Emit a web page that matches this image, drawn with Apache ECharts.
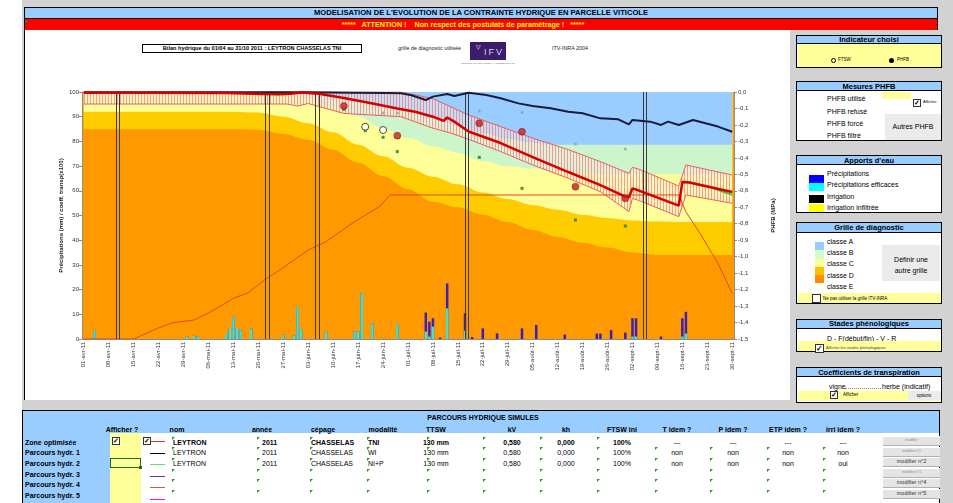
<!DOCTYPE html>
<html lang="fr">
<head>
<meta charset="utf-8">
<title>Modélisation de la contrainte hydrique</title>
<script src="https://cdn.jsdelivr.net/npm/echarts@6.0.0/dist/echarts.min.js"></script>
<style>
  html, body { margin: 0; padding: 0; }
  body { width: 953px; height: 503px; overflow: hidden; position: relative; background: #fff;
         font-family: "Liberation Sans", Arial, sans-serif; color: #000; }
  #frame { position: absolute; left: 0; top: 0; width: 953px; height: 503px; }
  #chart { position: absolute; left: 0; top: 0; width: 953px; height: 503px; z-index: 5; }
  .abs { position: absolute; white-space: pre; box-sizing: border-box; }
</style>
</head>
<body>
<div id="frame"></div>
<div id="chart"></div>
<script>
// ---- données (jour 0 = 01/04/2011) ----
const weekLabels = ['01-avr-11', '08-avr-11', '15-avr-11', '22-avr-11', '29-avr-11', '06-mai-11', '13-mai-11',
  '20-mai-11', '27-mai-11', '03-juin-11', '10-juin-11', '17-juin-11', '24-juin-11', '01-juil-11', '08-juil-11',
  '15-juil-11', '22-juil-11', '29-juil-11', '05-août-11', '12-août-11', '19-août-11', '26-août-11', '02-sept-11',
  '09-sept-11', '16-sept-11', '23-sept-11', '30-sept-11']
const nbJours = 183

// grille de diagnostic ITV-INRA : limites des classes (PHFB, MPa), une valeur par semaine
const gridDays = [0, 7, 14, 21, 28, 35, 42, 49, 56, 63, 70, 77, 84, 91, 98, 105, 112, 119, 126, 133, 140, 147, 154, 161, 168, 175, 182]
const limAB = [0, 0, 0, 0, 0, 0, 0, 0, 0, -0.005, -0.02, -0.045, -0.08, -0.115, -0.16, -0.205, -0.25, -0.285, -0.31, -0.32, -0.32, -0.32, -0.32, -0.32, -0.32, -0.32, -0.32]
const limBC = [0, 0, 0, 0, 0, 0, 0, 0, -0.01, -0.04, -0.09, -0.15, -0.22, -0.28, -0.33, -0.37, -0.42, -0.45, -0.465, -0.48, -0.49, -0.5, -0.5, -0.5, -0.5, -0.5, -0.5]
const limCD = [-0.12, -0.12, -0.12, -0.12, -0.12, -0.12, -0.12, -0.125, -0.15, -0.19, -0.245, -0.32, -0.39, -0.46, -0.514, -0.56, -0.61, -0.65, -0.686, -0.715, -0.745, -0.765, -0.78, -0.787, -0.79, -0.79, -0.79]
const limDE = [-0.226, -0.226, -0.226, -0.226, -0.226, -0.226, -0.226, -0.23, -0.255, -0.29, -0.35, -0.43, -0.51, -0.59, -0.666, -0.7, -0.745, -0.79, -0.838, -0.88, -0.915, -0.945, -0.975, -0.99, -0.99, -0.99, -0.99]

// zone optimisée (enveloppe hachurée)
const bandDays = [0, 57, 60, 63, 73, 89, 98, 103, 108, 117, 126, 136, 145, 153, 154, 156, 167, 169, 182]
const bandUpper = [0, 0, 0, 0, 0, 0, -0.04, -0.09, -0.14, -0.21, -0.28, -0.35, -0.423, -0.494, -0.457, -0.47, -0.571, -0.443, -0.504]
const bandLower = [-0.073, -0.073, -0.085, -0.07, -0.13, -0.15, -0.22, -0.25, -0.287, -0.362, -0.443, -0.524, -0.605, -0.726, -0.646, -0.66, -0.757, -0.625, -0.676]

// parcours hydriques simulés [jour, PHFB]
const parcoursTNI = [[0, -0.004], [20, -0.004], [40, -0.006], [50, -0.012], [55, -0.014], [58, -0.01], [61, -0.003], [66, -0.01],
  [73, -0.036], [80, -0.065], [88, -0.1], [93, -0.12], [98, -0.15], [101, -0.175], [102, -0.155], [104, -0.18], [108, -0.24],
  [117, -0.31], [126, -0.395], [136, -0.486], [145, -0.565], [152, -0.635], [153, -0.64], [154, -0.585], [156, -0.6],
  [167, -0.69], [168, -0.546], [170, -0.55], [182, -0.607]]
const parcoursWI = [[0, -0.002], [63, -0.002], [75, -0.004], [85, -0.006], [89, -0.008], [92, -0.02], [96, -0.049], [98, -0.028],
  [102, -0.012], [104, -0.024], [108, -0.004], [113, -0.018], [117, -0.038], [122, -0.069], [126, -0.085], [131, -0.099],
  [136, -0.12], [140, -0.129], [145, -0.16], [150, -0.166], [153, -0.197], [154, -0.17], [159, -0.18], [162, -0.2],
  [164, -0.18], [167, -0.2], [171, -0.17], [178, -0.21], [182, -0.241]]
const parcoursNIP = [[168, -0.546], [170, -0.55], [176, -0.58], [182, -0.625]]

// coefficient de transpiration de la vigne (x100)
const coeffVigne = [[0, 0], [14, 0], [21, 4.5], [25, 6.6], [31, 7.7], [35, 10.5], [38, 13], [42, 16.5], [46, 18.6], [51, 24.2],
  [55, 27.9], [59, 32], [63, 36], [68, 39.4], [76, 47.5], [83, 53.6], [86, 58.3], [167, 58.3], [169, 51.5], [173, 42.7],
  [178, 30.6], [182, 18.5]]

// précipitations (mm)
const precipDays = [3, 29, 31, 32, 40, 41, 42, 43, 44, 47, 56, 59, 60, 61, 68, 76, 77, 78, 81, 88, 96, 97, 98, 100, 102, 107, 109,
  112, 116, 123, 127, 135, 144, 145, 148, 152, 154, 155, 162, 168, 169]
const precipTotal = [3.6, 1, 1.3, 1, 2, 4.5, 9, 4.5, 3.5, 4.3, 1.8, 1.5, 13, 4, 3, 3, 3, 18.5, 6.3, 6, 10.7, 7, 8.4, 0.6, 22.5, 10.4, 0.8,
  4.3, 2.3, 4.3, 5.7, 1.8, 2.2, 2.2, 3.6, 2.6, 8.4, 8.4, 1, 8.4, 11]
const precipEff = [3.6, 1, 1.3, 1, 2, 4.5, 9, 4.5, 3.5, 4.3, 1.8, 1.5, 13, 4, 3, 3, 3, 18.5, 6.3, 6, 3, 1, 5, 0, 12.4, 3.4, 0,
  0, 0, 0, 0, 0, 0, 0, 0, 0, 1, 1, 0, 1, 2.2]

// mesures PHFB [jour, MPa]
const phfbUtilise = [[73, -0.085], [88, -0.265], [111, -0.19], [123, -0.241], [138, -0.575], [152, -0.646]]
const phfbFtsw = [[79, -0.211], [84, -0.231]]
const phfbForce = [[73, -0.105], [79, -0.235], [84, -0.275], [88, -0.362], [111, -0.397], [123, -0.585], [138, -0.777], [152, -0.814]]
const phfbRefuse = [[84, -0.128], [88, -0.128], [111, -0.115], [123, -0.124], [138, -0.316], [152, -0.346]]

// stades phénologiques D - F(début) - F(fin) - V - R
const stageDays = [9, 51, 65, 107, 157]

// tableau des parcours
const rowNames = ['Zone optimisée', 'Parcours hydr. 1', 'Parcours hydr. 2', 'Parcours hydr. 3', 'Parcours hydr. 4', 'Parcours hydr. 5']
const rowColors = ['#e0301e', '#000000', '#66dd66', '#5533cc', '#c0604a', '#ff00ff']
const parcoursRows = [
  ['LEYTRON', '2011', 'CHASSELAS', 'TNI', '130 mm', '0,580', '0,000', '100%', '---', '---', '---', '---'],
  ['LEYTRON', '2011', 'CHASSELAS', 'WI', '130 mm', '0,580', '0,000', '100%', 'non', 'non', 'non', 'non'],
  ['LEYTRON', '2011', 'CHASSELAS', 'NI+P', '130 mm', '0,580', '0,000', '100%', 'non', 'non', 'non', 'oui']
]
const colHeads = ['nom', 'année', 'cépage', 'modalité', 'TTSW', 'kV', 'kh', 'FTSW ini', 'T idem ?', 'P idem ?', 'ETP idem ?', 'irri idem ?']

// ---- cadre de la feuille (html) ----
const frame = document.getElementById('frame')
function box(x, y, w, h, css) {
  const d = document.createElement('div')
  d.className = 'abs'
  d.style.cssText += `left:${x}px;top:${y}px;width:${w}px;height:${h}px;${css || ''}`
  frame.appendChild(d)
  return d
}
// texte centré verticalement sur y ; align 'c' = centré sur x
function text(x, y, s, size, css, align) {
  const d = document.createElement('div')
  d.className = 'abs'
  const tx = align === 'c' ? '-50%' : '0'
  d.style.cssText += `left:${x}px;top:${y}px;font-size:${size}px;line-height:1;transform:translate(${tx},-50%);${css || ''}`
  d.textContent = s
  frame.appendChild(d)
  return d
}
function check(x, y, size, ticked) {
  const b = box(x, y, size, size, 'background:#fff;border:1px solid #333;')
  if (ticked) {
    b.textContent = '✓'
    b.style.cssText += `font-size:${size - 1}px;line-height:${size - 2}px;text-align:center;font-weight:bold;`
  }
}
function tri(x, y) {
  box(x, y, 0, 0, 'box-sizing:content-box;border-top:3px solid #1f9a1f;border-right:3px solid transparent;')
}
function panel(y, h, title, hh) {
  box(796, y, 146, h, 'background:#fff;border:1.5px solid #000;')
  box(796, y, 146, hh, 'background:#99ccff;border:1.5px solid #000;border-bottom-width:1px;')
  text(869, y + hh / 2 + 0.5, title, 7.5, 'font-weight:bold;', 'c')
}

box(22, 0, 931, 503, 'background:#d2d2d2;')
// bandeaux
box(24, 7, 914, 12, 'background:#99ccff;border:1px solid #000;')
text(481, 13.2, "MODELISATION DE L'EVOLUTION DE LA CONTRAINTE HYDRIQUE EN PARCELLE VITICOLE", 7.6, 'font-weight:bold;', 'c')
box(24, 19, 914, 11, 'background:#ff0000;border-left:1px solid #000;border-right:1px solid #000;')
text(463, 24.6, '*****   ATTENTION !    Non respect des postulats de paramétrage !   *****', 7.2, 'font-weight:bold;color:#ffff00;', 'c')
tri(25, 20)
// zone graphique
box(24, 30, 766, 370, 'background:#fff;border-left:1px solid #000;')
box(142, 44, 220, 9, 'border:1px solid #000;background:#fff;')
text(252, 48.7, 'Bilan hydrique du 01/04 au 31/10 2011 : LEYTRON CHASSELAS TNI', 5.6, 'font-weight:bold;', 'c')
text(398, 48.7, 'grille de diagnostic utilisée', 5.4, 'color:#222;')
box(470, 42, 36, 18, 'background:#3b1d6b;')
text(476, 47, '▽', 6, 'color:#fff;')
text(494, 51.5, 'IFV', 9, 'color:#d8d0f0;letter-spacing:2px;', 'c')
text(488, 63.5, 'INSTITUT FRANÇAIS DE LA VIGNE ET DU VIN', 2.5, 'color:#6a5a90;', 'c')
text(552, 48.7, 'ITV-INRA 2004', 5.4, 'color:#222;')

// panneaux de droite
panel(35, 33, 'Indicateur choisi', 9)
box(797.5, 44, 143, 22.5, 'background:#ffff99;')
box(831, 57.5, 5, 5, 'border:1px solid #000;border-radius:50%;background:#fff;')
text(838, 60, 'FTSW', 4.5)
box(889, 57.5, 5, 5, 'border-radius:50%;background:#000;')
text(897, 60, 'PHFB', 4.5)

panel(81, 60, 'Mesures PHFB', 10)
text(827, 98, 'PHFB utilisé', 7)
box(882, 92, 29, 7, 'background:#ffff99;')
check(913, 99, 8, true)
text(923, 102, 'Afficher', 4)
text(827, 111, 'PHFB refusé', 7)
text(827, 123, 'PHFB forcé', 7)
text(827, 135, 'PHFB filtré', 7)
box(885, 114, 56, 26, 'background:#ebebeb;')
text(913, 126, 'Autres PHFB', 7, '', 'c')

panel(155, 58, "Apports d'eau", 10)
box(809, 175, 15, 7.5, 'background:#0000ff;')
box(809, 183, 15, 7.5, 'background:#00ffff;')
box(809, 195, 15, 7.5, 'background:#000;')
box(809, 204, 15, 7.5, 'background:#ffff00;')
text(827, 173, 'Précipitations', 7)
text(827, 184, 'Précipitations efficaces', 7)
text(827, 196, 'Irrigation', 7)
text(827, 207, 'Irrigation infiltrée', 7)

panel(222, 82, 'Grille de diagnostic', 11)
const classColors = ['#99ccff', '#ccffcc', '#ffff99', '#ffc000', '#ff8c00']
classColors.forEach((c, i) => {
  box(815, 242 + i * 8.3, 9, 8.3, `background:${c};`)
  text(827, 241 + i * 11.2, 'classe ' + 'ABCDE'[i], 7)
})
box(882, 245, 58, 36, 'background:#ebebeb;')
text(911, 259, 'Définir une', 7, '', 'c')
text(911, 270, 'autre grille', 7, '', 'c')
box(797.5, 293, 143, 10, 'background:#ffff99;')
check(812, 294, 9, false)
text(823, 298.5, 'Ne pas utiliser la grille ITV-INRA', 4.5)

panel(319, 33, 'Stades phénologiques', 9.5)
text(827, 338, 'D - F(début/fin) - V - R', 7)
box(797.5, 341, 143, 10, 'background:#ffff99;')
check(815, 344, 9, true)
text(826, 348, 'Afficher les stades phénologiques', 4, 'color:#444;')

panel(367, 36, 'Coefficients de transpiration', 10)
text(829, 386, 'vigne', 7)
text(882, 386, 'herbe (indicatif)', 7)
box(845, 388, 36, 0, 'border-top:1px dotted #e07030;')
box(797.5, 391, 143, 10, 'background:#ffff99;')
check(830, 391, 8, true)
text(843, 395, 'Afficher', 4.5)
box(908, 391, 33, 9, 'background:#ebebeb;')
text(924, 395.5, 'options', 4.5, '', 'c')

// tableau des parcours hydriques
box(22, 410, 918, 96, 'background:#fff;border:1.5px solid #000;')
box(22, 410, 918, 23, 'background:#99ccff;border:1.5px solid #000;border-bottom:none;')
box(22, 433, 88, 72, 'background:#99ccff;border-left:1.5px solid #000;')
box(110, 433, 31, 72, 'background:#ffff99;')
text(483, 416.5, 'PARCOURS HYDRIQUE SIMULES', 7, 'font-weight:bold;', 'c')
text(122, 428.5, 'Afficher ?', 7, 'font-weight:bold;', 'c')
const colX = [177, 262, 323, 383, 436, 512, 566, 622, 677, 733, 788, 843]
const colLeft = [173, 262, 311, 368]
const triX = [172, 257, 310, 367, 427, 483, 540, 597, 655, 710, 767, 823]
colHeads.forEach((h, j) => text(colX[j], 428.5, h, 7, 'font-weight:bold;', 'c'))
const rowY = [441.7, 452.3, 463, 473.6, 484.2, 494.8]
rowNames.forEach((n, i) => {
  text(25, rowY[i], n, 7, 'font-weight:bold;')
  box(150, 441 + i * 11.6, 15, 0, `border-top:1.5px solid ${rowColors[i]};`)
  triX.forEach((x, j) => { if (i > 0 || j < 8) tri(x, rowY[i] - 5) })
})
check(112, 437, 8, true)
check(143, 437, 8, true)
box(110, 458, 31, 10, 'border:1.5px solid #1f6b2f;')
box(139, 466, 3, 3, 'background:#1f6b2f;')
parcoursRows.forEach((r, i) => {
  r.forEach((v, j) => {
    const css = (i === 0 && j < 8) ? 'font-weight:bold;' : ''
    if (j < 4) text(colLeft[j], rowY[i], v, 7, css)
    else text(colX[j], rowY[i], v, 7, css, 'c')
  })
})
const btnLabels = ['modifier', 'modifier n°1', 'modifier n°2', 'modifier n°3', 'modifier n°4', 'modifier n°5']
btnLabels.forEach((b, i) => {
  box(883, 436 + i * 10.6, 57, 10, 'background:#e4e4e4;border-top:1px solid #fff;border-bottom:1px solid #b0b0b0;')
  const faint = i === 0 || i === 1 || i === 3
  text(911.5, 441 + i * 10.6, b, faint ? 3.5 : 5.5, faint ? 'color:#888;' : 'color:#333;', 'c')
})

// ---- graphique ECharts ----
// motif de hachures verticales de la zone optimisée
const hatch = document.createElement('canvas')
hatch.width = 3
hatch.height = 3
const hc = hatch.getContext('2d')
hc.fillStyle = 'rgba(255,235,230,0.5)'
hc.fillRect(0, 0, 3, 3)
hc.fillStyle = 'rgba(228,80,80,0.5)'
hc.fillRect(0, 0, 1, 3)

const seasonDays = Array.from({ length: nbJours }, (_, i) => i)
const fr = v => v.toFixed(1).replace('.', ',')
const pairs = (xs, ys) => xs.map((d, i) => [d, ys[i]])

function bandSeries(name, limit, color) {
  return {
    name, type: 'line', yAxisIndex: 1, data: pairs(gridDays, limit), symbol: 'none', silent: true,
    smooth: 0.35, smoothMonotone: 'x', lineStyle: { width: 0 }, areaStyle: { color, opacity: 1, origin: 'end' }, z: 1
  }
}

const chart = echarts.init(document.getElementById('chart'))
chart.setOption({
  animation: false,
  backgroundColor: 'transparent',
  textStyle: { fontFamily: 'Liberation Sans' },
  grid: { left: 82, right: 219, top: 92, bottom: 164, show: true, backgroundColor: '#ff9900', borderWidth: 0 },
  xAxis: {
    type: 'category', data: seasonDays, boundaryGap: true,
    axisLine: { lineStyle: { color: '#8c8c8c' } },
    axisTick: { alignWithLabel: true, interval: i => i % 7 === 0, length: 3, lineStyle: { color: '#8c8c8c' } },
    axisLabel: { interval: i => i % 7 === 0, rotate: 90, fontSize: 6, color: '#333', margin: 3, formatter: (v, i) => weekLabels[i / 7] }
  },
  yAxis: [
    {
      type: 'value', min: 0, max: 100, interval: 10, position: 'left',
      name: 'Précipitations (mm) / coeff. transp(x100)', nameLocation: 'middle', nameRotate: 90, nameGap: 18,
      nameMoveOverlap: false,
      nameTextStyle: { fontSize: 6, fontWeight: 'bold', color: '#222' },
      axisLine: { show: true, lineStyle: { color: '#8c8c8c' } },
      axisTick: { show: true, length: 3, lineStyle: { color: '#8c8c8c' } },
      axisLabel: { fontSize: 6, color: '#333', margin: 3 }, splitLine: { show: false }
    },
    {
      type: 'value', min: -1.5, max: 0, interval: 0.1, position: 'right',
      name: 'PHFB (MPa)', nameLocation: 'middle', nameRotate: 90, nameGap: 36,
      nameTextStyle: { fontSize: 6, fontWeight: 'bold', color: '#222' },
      axisLine: { show: true, lineStyle: { color: '#8c8c8c' } },
      axisTick: { show: true, length: 3, lineStyle: { color: '#8c8c8c' } },
      axisLabel: { fontSize: 6, color: '#333', margin: 4, formatter: fr }, splitLine: { show: false }
    }
  ],
  series: [
    bandSeries('classe D', limDE, '#ffcc00'),
    bandSeries('classe C', limCD, '#ffff99'),
    bandSeries('classe B', limBC, '#ccf5cc'),
    bandSeries('classe A', limAB, '#99ccff'),
    {
      name: 'zone optimisée (bas)', type: 'line', yAxisIndex: 1, stack: 'zone', stackStrategy: 'all',
      data: pairs(bandDays, bandLower), symbol: 'none', silent: true, lineStyle: { color: '#e86060', width: 1 }, z: 2
    },
    {
      name: 'zone optimisée', type: 'line', yAxisIndex: 1, stack: 'zone', stackStrategy: 'all',
      data: bandDays.map((d, i) => [d, bandUpper[i] - bandLower[i]]), symbol: 'none', silent: true,
      lineStyle: { color: '#e86060', width: 1 }, areaStyle: { color: { image: hatch, repeat: 'repeat' }, opacity: 1 }, z: 2
    },
    {
      name: 'Précipitations', type: 'bar', data: pairs(precipDays, precipTotal), barWidth: 2.5, barGap: '-100%',
      itemStyle: { color: '#3c20b4' }, z: 3
    },
    {
      name: 'Précipitations efficaces', type: 'bar', data: pairs(precipDays, precipEff), barWidth: 2.5, barGap: '-100%',
      itemStyle: { color: '#44e3cf' }, z: 3
    },
    {
      name: 'coeff. transp. vigne', type: 'line', data: coeffVigne, symbol: 'none', lineStyle: { color: '#e4471c', width: 1 }, z: 4,
      markLine: {
        silent: true, symbol: 'none', label: { show: false }, lineStyle: { color: '#3a3a3a', width: 1, type: 'solid' },
        data: stageDays.flatMap(d => [{ xAxis: d }, { xAxis: d + 1 }])
      }
    },
    { name: 'Parcours hydr. 2', type: 'line', yAxisIndex: 1, data: parcoursNIP, symbol: 'none', lineStyle: { color: '#33cc33', width: 2 }, z: 5 },
    { name: 'Parcours hydr. 1', type: 'line', yAxisIndex: 1, data: parcoursWI, symbol: 'none', lineStyle: { color: '#1b1b3a', width: 2 }, z: 5 },
    { name: 'Zone optimisée', type: 'line', yAxisIndex: 1, data: parcoursTNI, symbol: 'none', lineStyle: { color: '#d40000', width: 2.5 }, z: 6 },
    { name: 'PHFB refusé', type: 'scatter', yAxisIndex: 1, data: phfbRefuse, symbolSize: 3, itemStyle: { color: '#9a9aa8' }, z: 7 },
    { name: 'PHFB forcé', type: 'scatter', yAxisIndex: 1, data: phfbForce, symbol: 'rect', symbolSize: 3, itemStyle: { color: '#1e7a1e' }, z: 7 },
    { name: 'FTSW', type: 'scatter', yAxisIndex: 1, data: phfbFtsw, symbolSize: 7, itemStyle: { color: '#fff', borderColor: '#222', borderWidth: 1 }, z: 8 },
    { name: 'PHFB utilisé', type: 'scatter', yAxisIndex: 1, data: phfbUtilise, symbolSize: 7, itemStyle: { color: '#c81e1e', borderColor: '#7a0000', borderWidth: 0.5 }, z: 8 }
  ]
})
</script>
</body>
</html>
